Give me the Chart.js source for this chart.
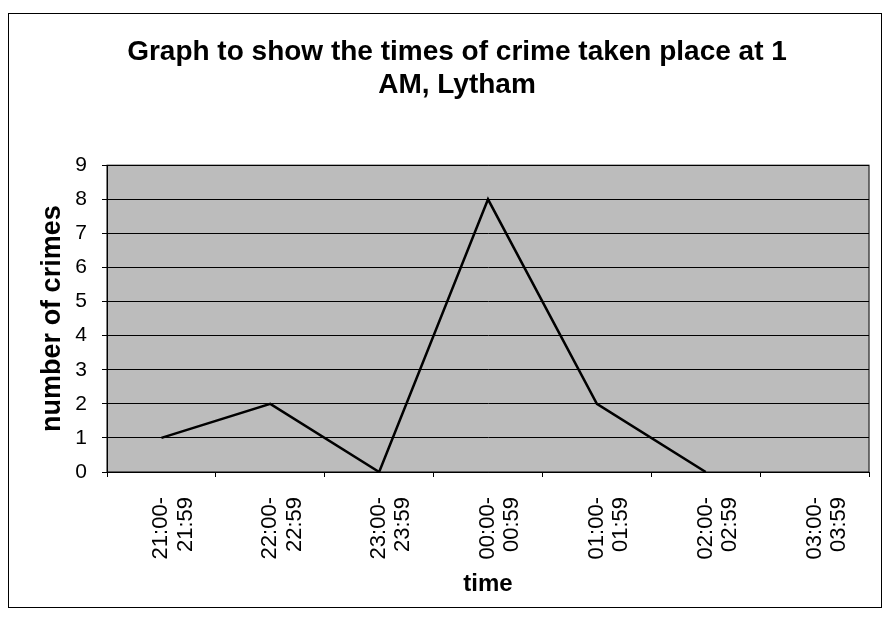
<!DOCTYPE html>
<html>
<head>
<meta charset="utf-8">
<script src="https://cdn.jsdelivr.net/npm/chart.js@4"></script>
<style>
  body { margin: 0; background: #fff; }
  #wrap { width: 883px; height: 624px; }
</style>
</head>
<body>
<div id="wrap"><canvas id="grafico" width="883" height="624"></canvas></div>
<script>
// dados do grafico
const horarios = [
  ['21:00-', '21:59'],
  ['22:00-', '22:59'],
  ['23:00-', '23:59'],
  ['00:00-', '00:59'],
  ['01:00-', '01:59'],
  ['02:00-', '02:59'],
  ['03:00-', '03:59']
];
const crimes = [1, 2, 0, 8, 2, 0, null];
const tituloLinhas = ['Graph to show the times of crime taken place at 1', 'AM, Lytham'];

const fonte = "'Liberation Sans', Arial, sans-serif";

// fundo cinza da area do grafico + moldura externa
const fundoPlugin = {
  id: 'fundo',
  beforeDraw(chart) {
    const ctx = chart.ctx;
    const a = chart.chartArea;
    ctx.save();
    ctx.fillStyle = '#bcbcbc';
    ctx.fillRect(a.left, a.top, a.right - a.left, a.bottom - a.top);
    ctx.strokeStyle = '#000';
    ctx.lineWidth = 1;
    ctx.strokeRect(8.5, 13.5, 873, 594);
    ctx.restore();
  },
  afterDatasetsDraw(chart) {
    const ctx = chart.ctx;
    const a = chart.chartArea;
    ctx.save();
    ctx.strokeStyle = '#000';
    ctx.lineWidth = 1;
    ctx.strokeRect(a.left, a.top, a.right - a.left, a.bottom - a.top);
    ctx.restore();
  }
};

new Chart(document.getElementById('grafico').getContext('2d'), {
  type: 'line',
  data: {
    labels: horarios,
    datasets: [{
      data: crimes,
      borderColor: '#000',
      borderWidth: 2.5,
      pointRadius: 0,
      tension: 0,
      spanGaps: false
    }]
  },
  options: {
    responsive: false,
    animation: false,
    layout: { padding: { left: 30, right: -1, top: 0, bottom: 25 } },
    plugins: {
      legend: { display: false },
      tooltip: { enabled: false },
      title: {
        display: true,
        text: tituloLinhas,
        color: '#000',
        font: { family: fonte, size: 28, weight: 'bold', lineHeight: 1.2 },
        padding: { top: 35, bottom: 63 }
      }
    },
    scales: {
      y: {
        min: 0,
        max: 9,
        afterFit(scale) { scale.width = 77; },
        ticks: { stepSize: 1, color: '#000', font: { family: fonte, size: 21 }, padding: 15 },
        grid: { color: '#000', lineWidth: 1, tickLength: 5, drawTicks: true },
        border: { color: '#000' },
        title: {
          display: true,
          text: 'number of crimes',
          color: '#000',
          font: { family: fonte, size: 27, weight: 'bold', lineHeight: 1.2 },
          padding: 6
        }
      },
      x: {
        offset: true,
        afterFit(scale) { scale.height = 127; },
        ticks: {
          color: '#000',
          font: { family: fonte, size: 22, lineHeight: 1.1 },
          minRotation: 90,
          maxRotation: 90,
          padding: 20
        },
        grid: { offset: true, drawOnChartArea: false, drawTicks: true, tickLength: 5, color: '#000' },
        border: { color: '#000' },
        title: {
          display: true,
          text: 'time',
          color: '#000',
          font: { family: fonte, size: 24, weight: 'bold', lineHeight: 1.2 },
          padding: { top: 10, bottom: 0 }
        }
      }
    }
  },
  plugins: [fundoPlugin]
});
</script>
</body>
</html>
